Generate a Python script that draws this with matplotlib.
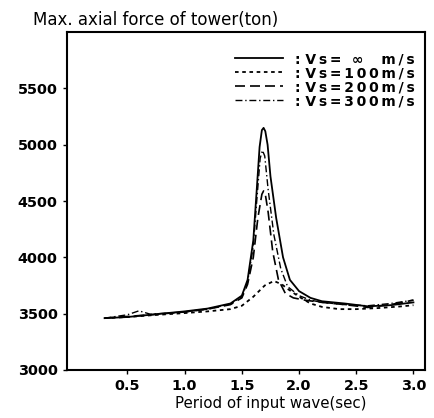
import numpy as np
import matplotlib.pyplot as plt

plt.rcParams['font.family'] = ['DejaVu Sans']

# period of input wave (sec) and max axial force (ton)
x_inf = [0.3, 0.5, 0.7, 1.0, 1.2, 1.4, 1.5, 1.55, 1.6, 1.63, 1.655, 1.675, 1.69,
         1.705, 1.725, 1.75, 1.8, 1.86, 1.92, 2.0, 2.1, 2.2, 2.4, 2.6, 2.8, 3.0]
y_inf = [3460, 3470, 3490, 3520, 3545, 3590, 3660, 3800, 4150, 4600, 4980, 5130, 5150,
         5120, 5000, 4720, 4350, 4000, 3800, 3700, 3640, 3610, 3590, 3565, 3575, 3600]

x_100 = [0.3, 0.5, 0.7, 1.0, 1.2, 1.4, 1.5, 1.6, 1.7, 1.78, 1.85, 1.9, 2.0,
         2.1, 2.2, 2.35, 2.5, 2.7, 2.9, 3.0]
y_100 = [3460, 3470, 3485, 3505, 3520, 3540, 3570, 3650, 3750, 3790, 3760, 3720,
         3650, 3590, 3560, 3540, 3540, 3550, 3565, 3575]

x_200 = [0.3, 0.5, 0.7, 1.0, 1.2, 1.4, 1.5, 1.55, 1.6, 1.64, 1.675, 1.69, 1.705,
         1.73, 1.77, 1.82, 1.88, 1.95, 2.05, 2.2, 2.4, 2.6, 2.8, 3.0]
y_200 = [3460, 3475, 3490, 3515, 3540, 3580, 3640, 3760, 4000, 4350, 4560, 4590, 4560,
         4400, 4050, 3800, 3680, 3640, 3620, 3600, 3580, 3555, 3580, 3620]

x_300 = [0.3, 0.5, 0.6, 0.7, 1.0, 1.2, 1.4, 1.5, 1.55, 1.6, 1.63, 1.66, 1.68,
         1.70, 1.73, 1.78, 1.84, 1.9, 2.0, 2.1, 2.2, 2.4, 2.6, 2.8, 3.0]
y_300 = [3460, 3490, 3525, 3495, 3515, 3540, 3585, 3650, 3780, 4100, 4500, 4880,
         4950, 4900, 4600, 4200, 3900, 3740, 3660, 3620, 3600, 3580, 3570, 3590, 3620]

labels = [': Vs= \u221e  m/s', ': Vs=100m/s', ': Vs=200m/s', ': Vs=300m/s']


def spaced(s):
    # the scanned legend is letter-spaced
    return s[:2] + '\u2009'.join(s[2:])


fig = plt.figure(figsize=(4.34, 4.18), dpi=100)
ax = fig.add_axes([0.154, 0.115, 0.825, 0.808])

ax.plot(x_inf, y_inf, color='black', lw=1.3, ls='-', label=spaced(labels[0]))
ax.plot(x_100, y_100, color='black', lw=1.3, ls=(0, (2, 2)), label=spaced(labels[1]))
ax.plot(x_200, y_200, color='black', lw=1.2, ls=(0, (6, 3)), label=spaced(labels[2]))
ax.plot(x_300, y_300, color='black', lw=1.0, ls=(0, (5, 2, 1, 2)), label=spaced(labels[3]))

ax.set_xlim(-0.03, 3.1)
ax.set_ylim(3000, 6000)
ax.set_xticks([0.5, 1.0, 1.5, 2.0, 2.5, 3.0])
ax.set_xticklabels(['0.5', '1.0', '1.5', '2.0', '2.5', '3.0'])
ax.set_yticks([3000, 3500, 4000, 4500, 5000, 5500])
ax.tick_params(axis='both', labelsize=10.4, length=3, width=1, direction='out')
for lab in ax.get_xticklabels() + ax.get_yticklabels():
    lab.set_fontweight('bold')
for sp in ax.spines.values():
    sp.set_linewidth(1.5)

ax.text(-0.095, 1.01, 'Max. axial force of tower(ton)', transform=ax.transAxes,
        fontsize=12, ha='left', va='bottom')
ax.set_xlabel('Period of input wave(sec)', fontsize=10.8)
ax.xaxis.set_label_coords(0.57, -0.078)

leg = ax.legend(loc='upper right', bbox_to_anchor=(0.995, 0.965), frameon=False,
                handlelength=3.45, handletextpad=0.85, labelspacing=0.0,
                borderaxespad=0.2, prop={'weight': 'bold', 'size': 10})

fig.savefig('out.png', dpi=100)
